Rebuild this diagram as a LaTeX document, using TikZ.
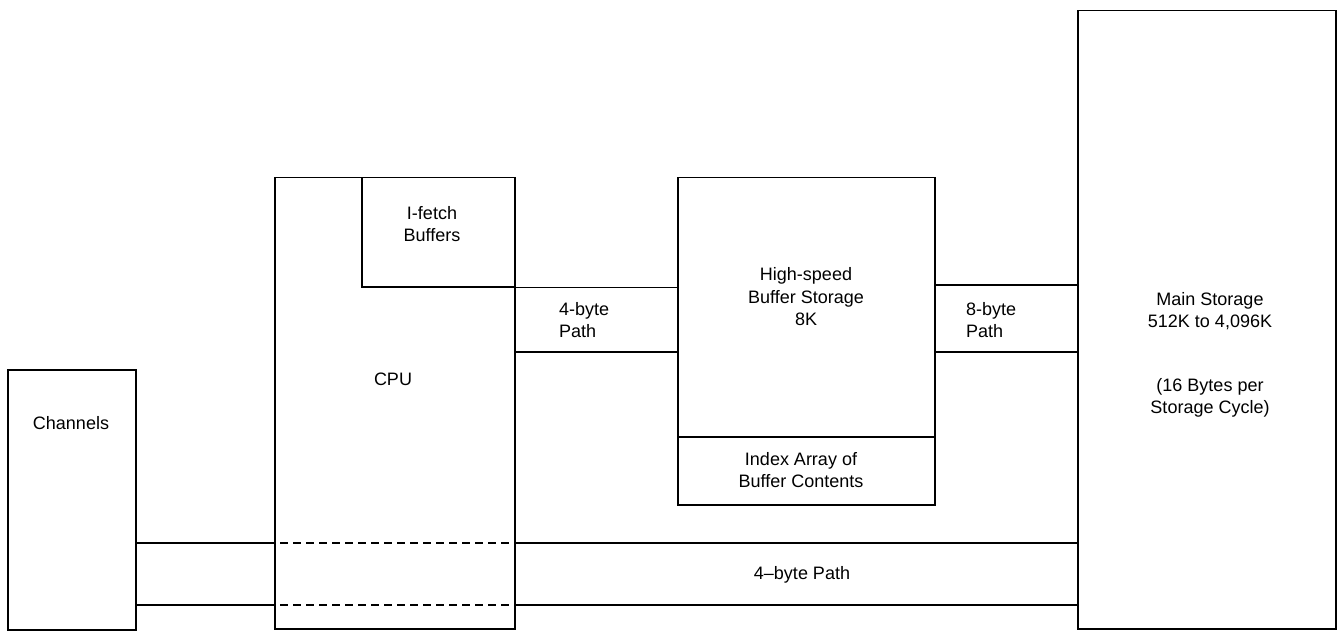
\documentclass[tikz,border=0pt]{standalone}
\usepackage{fontspec}
\setmainfont{Liberation Sans}
\begin{document}
\begin{tikzpicture}[x=1pt,y=-1pt,
  box/.style={draw, line width=1.5pt, rectangle, inner sep=0pt, anchor=north west},
  lbl/.style={inner sep=0pt, align=center, font=\fontsize{18}{22.5}\selectfont},
  lbll/.style={inner sep=0pt, align=left, anchor=west, font=\fontsize{18}{22.5}\selectfont},
  wire/.style={line width=1.5pt},
  dwire/.style={line width=1.5pt, dash pattern=on 8pt off 5pt}]
\useasboundingbox (0,0) rectangle (1338,631);
% boxes
\node[box, minimum width=128pt, minimum height=260pt] (chan) at (7,369) {};
\node[box, minimum width=240pt, minimum height=451pt] (cpu) at (274,177) {};
\node[box, minimum width=153pt, minimum height=109pt] (ifetch) at (361,177) {};
\node[box, minimum width=257pt, minimum height=327pt] (hsb) at (677,177) {};
\node[box, minimum width=258pt, minimum height=618pt] (main) at (1077,10) {};
\coordinate (idxL) at (677,437);
\coordinate (idxR) at (934,437);
\draw[wire] (idxL) -- (idxR);
% paths CPU - buffer
\draw[wire] (ifetch.south east) -- (hsb.west |- ifetch.south east);
\draw[wire] (cpu.east |- 0,352) -- (hsb.west |- 0,352);
% paths buffer - main
\draw[wire] (hsb.east |- 0,285) -- (main.west |- 0,285);
\draw[wire] (hsb.east |- 0,352) -- (main.west |- 0,352);
% bottom 4-byte path
\draw[wire] (chan.east |- 0,543) -- (cpu.west |- 0,543);
\draw[wire] (chan.east |- 0,605) -- (cpu.west |- 0,605);
\draw[dwire] (cpu.west |- 0,543) ++(6,0) -- (cpu.east |- 0,543);
\draw[dwire] (cpu.west |- 0,605) ++(6,0) -- (cpu.east |- 0,605);
\draw[wire] (cpu.east |- 0,543) -- (main.west |- 0,543);
\draw[wire] (cpu.east |- 0,605) -- (main.west |- 0,605);
% labels
\node[lbl] (tchan) at (71,423) {Channels};
\node[lbl] (tcpu) at (393,379) {CPU};
\node[lbl] (tif) at (432,224) {I-fetch\\Buffers};
\node[lbll] (tp4) at (559,320) {4-byte\\Path};
\node[lbl] (ths) at (806,297) {High-speed\\Buffer Storage\\8K};
\node[lbl] (tidx) at (801,470) {Index Array of\\Buffer Contents};
\node[lbll] (tp8) at (966,320) {8-byte\\Path};
\node[lbl] (tms) at (1210,311) {Main Storage\\512K to 4,096K};
\node[lbl] (tcyc) at (1210,398) {(16 Bytes per\\Storage Cycle)};
\node[lbl] (tp4b) at (802,575) {4--byte Path};
\end{tikzpicture}
\end{document}
